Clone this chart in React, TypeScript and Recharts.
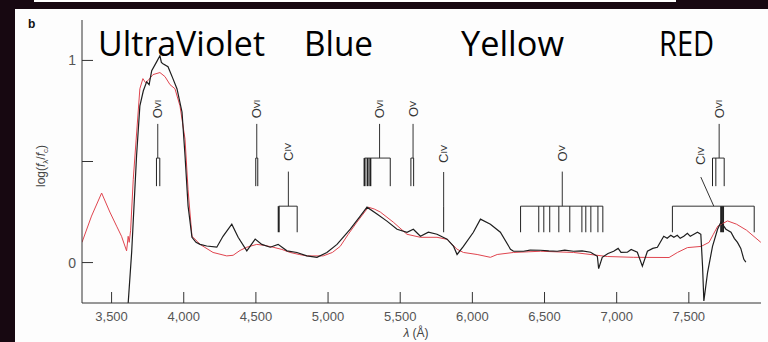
import React from 'react';
import { LineChart, Line, XAxis, YAxis, ReferenceLine, ReferenceDot } from 'recharts';

// axis ticks
const xTicks = [3500, 4000, 4500, 5000, 5500, 6000, 6500, 7000, 7500];
const yTicks = [0, 0.5, 1];
const yTickLabels = ['0', '', '1'];

// band names over the plot
const bandNames = ['UltraViolet', 'Blue', 'Yellow', 'RED'];

// model spectrum (red)
const modelWave = [
  3295, 3361, 3431, 3488, 3535, 3569, 3604, 3615, 3622, 3632, 3650, 3674, 3696, 3717, 3735, 3752,
  3787, 3835, 3870, 3905, 3939, 3974, 4009, 4030, 4057, 4092, 4113, 4203, 4298, 4342, 4390, 4437,
  4506, 4560, 4619, 4680, 4737, 4800, 4853, 4966, 5030, 5084, 5140, 5200, 5279, 5320, 5362, 5452,
  5547, 5640, 5755, 5825, 5894, 5938, 6033, 6125, 6172, 6285, 6472, 6701, 6935, 7118, 7363, 7421,
  7490, 7585, 7640, 7670, 7700, 7768, 7830, 7900, 7999,
];
const modelFlux = [
  0.1, 0.23, 0.344, 0.25, 0.18, 0.13, 0.058, 0.13, 0.1, 0.16, 0.41, 0.646, 0.86, 0.91, 0.89, 0.9,
  0.93, 0.94, 0.92, 0.88, 0.86, 0.775, 0.61, 0.36, 0.13, 0.106, 0.09, 0.05, 0.033, 0.036, 0.06, 0.076,
  0.09, 0.085, 0.076, 0.065, 0.05, 0.04, 0.033, 0.033, 0.05, 0.08, 0.14, 0.2, 0.274, 0.265, 0.25, 0.2,
  0.14, 0.125, 0.125, 0.115, 0.066, 0.05, 0.04, 0.026, 0.04, 0.05, 0.056, 0.05, 0.03, 0.026, 0.025, 0.05,
  0.074, 0.08, 0.1, 0.14, 0.18, 0.206, 0.19, 0.16, 0.1,
];

// observed spectrum (black)
const obsWave = [
  3615, 3639, 3673, 3696, 3720, 3743, 3760, 3778, 3812, 3835, 3845, 3856, 3891, 3925, 3953, 3988,
  4009, 4030, 4057, 4085, 4113, 4159, 4229, 4272, 4333, 4377, 4437, 4495, 4541, 4599, 4654, 4715,
  4784, 4853, 4923, 4992, 5062, 5154, 5223, 5270, 5339, 5408, 5478, 5547, 5591, 5640, 5695, 5755,
  5825, 5870, 5894, 5938, 6007, 6056, 6125, 6194, 6264, 6285, 6354, 6400, 6472, 6530, 6588, 6640,
  6701, 6760, 6819, 6866, 6875, 6900, 6940, 6979, 7010, 7030, 7074, 7100, 7143, 7178, 7213, 7250,
  7282, 7326, 7350, 7375, 7396, 7420, 7440, 7465, 7490, 7510, 7535, 7560, 7583, 7595, 7604, 7630,
  7664, 7699, 7722, 7757, 7792, 7815, 7837, 7860, 7881, 7895,
];
const obsFlux = [
  -0.2, 0.05, 0.527, 0.775, 0.85, 0.894, 0.88, 0.949, 0.993, 1.023, 0.99, 0.984, 0.969, 0.91, 0.86, 0.745,
  0.527, 0.28, 0.125, 0.1, 0.09, 0.082, 0.076, 0.13, 0.19, 0.125, 0.058, 0.116, 0.09, 0.076, 0.09, 0.058,
  0.05, 0.033, 0.026, 0.05, 0.09, 0.165, 0.23, 0.274, 0.24, 0.205, 0.165, 0.15, 0.165, 0.13, 0.15, 0.14,
  0.116, 0.08, 0.04, 0.08, 0.15, 0.215, 0.19, 0.15, 0.066, 0.056, 0.056, 0.062, 0.061, 0.058, 0.056, 0.062,
  0.056, 0.058, 0.051, 0.031, -0.03, 0.026, 0.045, 0.056, 0.07, 0.05, 0.051, 0.065, 0.051, -0.018, 0.056, 0.07,
  0.076, 0.13, 0.12, 0.135, 0.125, 0.135, 0.12, 0.13, 0.145, 0.13, 0.14, 0.15, 0.14, -0.018, -0.19, -0.048,
  0.08, 0.165, 0.2, 0.165, 0.15, 0.12, 0.1, 0.07, 0.016, 0.002,
];

// line identifications (wavelengths in Å, heights in log flux units)
const idIon = ['O', 'O', 'C', 'O', 'O', 'C', 'O', 'C', 'O'];
const idStage = ['VI', 'VI', 'IV', 'VI', 'V', 'IV', 'V', 'IV', 'VI'];
const idLabelX = [3820, 4506, 4725, 5357, 5589, 5801, 6623, 7583, 7710];
const idLabelY = [0.76, 0.76, 0.547, 0.76, 0.76, 0.537, 0.54, 0.527, 0.76];
const idStemTop = [0.686, 0.686, 0.45, 0.686, 0.686, 0.448, 0.45, 0.423, 0.686];
const idStemEndX = [3820, 4506, 4725, 5357, 5589, 5801, 6623, 7673, 7710];
const idStemBottom = [0.517, 0.517, 0.279, 0.517, 0.517, 0.279, 0.279, 0.279, 0.517];
const idLineBottom = [0.378, 0.378, 0.15, 0.378, 0.378, 0.15, 0.15, 0.15, 0.378];
const idLines = [
  [3811, 3834],
  [4499, 4513],
  [4658, 4786],
  [5253, 5274, 5293, 5431],
  [5574, 5593],
  [5801],
  [6334, 6460, 6495, 6536, 6599, 6675, 6759, 6786, 6821, 6870, 6904],
  [7386, 7724, 7737, 7953],
  [7664, 7687, 7745],
];
const idThick = [[], [], [4658], [5253, 5274, 5293], [], [], [], [7724, 7737], []];

const modelData = modelWave.map((x, i) => ({ x, y: modelFlux[i] }));
const obsData = obsWave.map((x, i) => ({ x, y: obsFlux[i] }));

const tickFont = '"Liberation Sans", Arial, sans-serif';

const fmt = (v: number) => `${Math.floor(v / 1000)},${String(v % 1000).padStart(3, '0')}`;

const XTick = (props: any) => {
  const { x, y, payload } = props;
  return (
    <g>
      <line x1={x} x2={x} y1={y} y2={y - 11} stroke="#333" strokeWidth={1} />
      <text x={x} y={y + 18} textAnchor="middle" fontSize={13} fill="#555" fontFamily={tickFont}>
        {fmt(payload.value)}
      </text>
    </g>
  );
};

const YTick = (props: any) => {
  const { x, y, payload } = props;
  const label = yTickLabels[yTicks.indexOf(payload.value)];
  return (
    <g>
      <line x1={x} x2={x + 11} y1={y} y2={y} stroke="#333" strokeWidth={1} />
      <text x={x - 6} y={y + 5} textAnchor="end" fontSize={14} fill="#555" fontFamily={tickFont}>
        {label}
      </text>
    </g>
  );
};

const IdLabel = ({ cx, cy, ion, stage }: any) => (
  <text
    transform={`translate(${cx},${cy}) rotate(-90)`}
    textAnchor="middle"
    dominantBaseline="central"
    fontSize={13}
    fill="#333"
    fontFamily={tickFont}
  >
    {ion}
    <tspan fontSize={9}>{stage}</tspan>
  </text>
);

// band names: left edge and width in px
const bandX = [98, 304, 461, 659];
const bandW = [167, 69, 103, 55];

export default function App() {
  const marks: React.ReactNode[] = [];
  idIon.forEach((ion, i) => {
    const lines = idLines[i];
    marks.push(
      <ReferenceLine
        key={`stem${i}`}
        segment={[
          { x: idLabelX[i], y: idStemTop[i] },
          { x: idStemEndX[i], y: idStemBottom[i] },
        ]}
        stroke="#333"
        strokeWidth={1}
      />
    );
    if (lines.length > 1) {
      marks.push(
        <ReferenceLine
          key={`br${i}`}
          segment={[
            { x: lines[0], y: idStemBottom[i] },
            { x: lines[lines.length - 1], y: idStemBottom[i] },
          ]}
          stroke="#333"
          strokeWidth={1}
        />
      );
    }
    lines.forEach((l, j) => {
      marks.push(
        <ReferenceLine
          key={`l${i}-${j}`}
          segment={[
            { x: l, y: idStemBottom[i] },
            { x: l, y: idLineBottom[i] },
          ]}
          stroke="#222"
          strokeWidth={idThick[i].includes(l) ? 2 : 1}
        />
      );
    });
    marks.push(
      <ReferenceDot
        key={`lab${i}`}
        x={idLabelX[i]}
        y={idLabelY[i]}
        r={0}
        shape={(p: any) => <IdLabel cx={p.cx} cy={p.cy} ion={ion} stage={idStage[i]} />}
      />
    );
  });

  return (
    <div style={{ position: 'fixed', left: 0, top: 0, width: 768, height: 342, background: '#170811', overflow: 'hidden' }}>
      <div style={{ position: 'absolute', left: 34, top: 0, width: 642, height: 2, background: '#fff' }} />
      <div style={{ position: 'absolute', left: 15, top: 9, width: 753, height: 333, background: '#fdfdfd' }} />
      <div style={{ position: 'absolute', left: 0, top: 0 }}>
        <LineChart width={768} height={342} margin={{ top: 20, right: 7, left: 22, bottom: 9 }}>
          <XAxis
            dataKey="x"
            type="number"
            domain={[3295, 8000]}
            allowDataOverflow
            ticks={xTicks}
            interval={0}
            tickSize={0}
            tickMargin={0}
            tickLine={false}
            tick={<XTick />}
            height={30}
            axisLine={{ stroke: '#333', strokeWidth: 1 }}
          />
          <YAxis
            dataKey="y"
            type="number"
            domain={[-0.2, 1.2]}
            allowDataOverflow
            ticks={yTicks}
            interval={0}
            tickSize={0}
            tickMargin={0}
            tickLine={false}
            tick={<YTick />}
            width={60}
            axisLine={{ stroke: '#333', strokeWidth: 1 }}
          />
          {marks}
          <Line data={modelData} dataKey="y" type="linear" stroke="#e0454f" strokeWidth={1} dot={false} isAnimationActive={false} />
          <Line data={obsData} dataKey="y" type="linear" stroke="#1e1e1e" strokeWidth={1.2} dot={false} isAnimationActive={false} />
        </LineChart>
      </div>
      <svg width={768} height={342} style={{ position: 'absolute', left: 0, top: 0, pointerEvents: 'none' }}>
        <text x={28} y={28} fontSize={12} fontWeight="bold" fill="#111" fontFamily={tickFont}>b</text>
        {bandNames.map((name, i) => (
          <text
            key={name}
            x={bandX[i]}
            y={56}
            fontSize={35}
            fill="#000"
            fontFamily='"Open Sans", Lato, sans-serif'
            textLength={bandW[i]}
            lengthAdjust="spacingAndGlyphs"
          >
            {name}
          </text>
        ))}
        <text transform="translate(45,166) rotate(-90)" textAnchor="middle" fontSize={12} fill="#444" fontFamily={tickFont}>
          log(<tspan fontStyle="italic">f</tspan>
          <tspan fontSize={8} dy={3}>λ</tspan>
          <tspan dy={-3}>/</tspan>
          <tspan fontStyle="italic">f</tspan>
          <tspan fontSize={8} dy={3}>c</tspan>
          <tspan dy={-3}>)</tspan>
        </text>
        <text x={416} y={337} textAnchor="middle" fontSize={12} fill="#444" fontFamily={tickFont}>
          <tspan fontStyle="italic">λ</tspan> (Å)
        </text>
      </svg>
    </div>
  );
}
